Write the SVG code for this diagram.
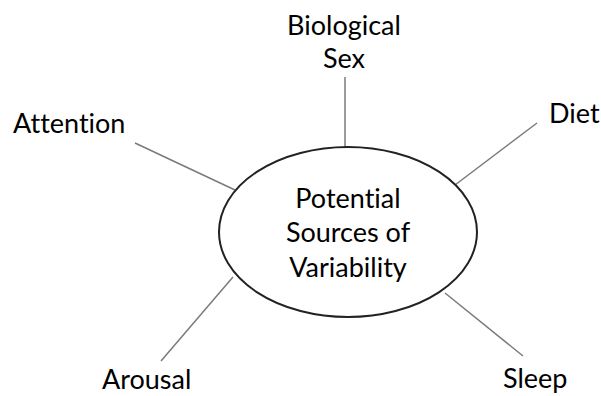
<svg xmlns="http://www.w3.org/2000/svg" width="601" height="396" viewBox="0 0 601 396">
<style>
text{font-family:Lato,"Open Sans","Liberation Sans",sans-serif;font-size:27px;fill:#000;font-variant-ligatures:none;font-feature-settings:"liga" 0}
.c line{stroke:#7a7a7a;stroke-width:1.5}
</style>
<rect width="601" height="396" fill="#fff"/>
<g class="c" id="connectors">
<line x1="345" y1="77" x2="345" y2="148"/>
<line x1="135" y1="143" x2="235" y2="190"/>
<line x1="537" y1="123" x2="455" y2="185"/>
<line x1="161" y1="361" x2="233" y2="277"/>
<line x1="523" y1="356" x2="445" y2="293"/>
</g>
<g id="center">
<ellipse cx="348" cy="232" rx="129" ry="85" fill="#fff" stroke="#222" stroke-width="2"/>
<text x="348" y="208" text-anchor="middle">Potential</text>
<text x="348" y="242" text-anchor="middle">Sources of</text>
<text x="348" y="277" text-anchor="middle">Variability</text>
</g>
<g id="biosex"><text x="344" y="35" text-anchor="middle">Biological</text><text x="344" y="68" text-anchor="middle">Sex</text></g>
<g id="attention"><text x="13" y="133">Attention</text></g>
<g id="diet"><text x="549" y="123">Diet</text></g>
<g id="arousal"><text x="102" y="389">Arousal</text></g>
<g id="sleep"><text x="503" y="388">Sleep</text></g>
</svg>
